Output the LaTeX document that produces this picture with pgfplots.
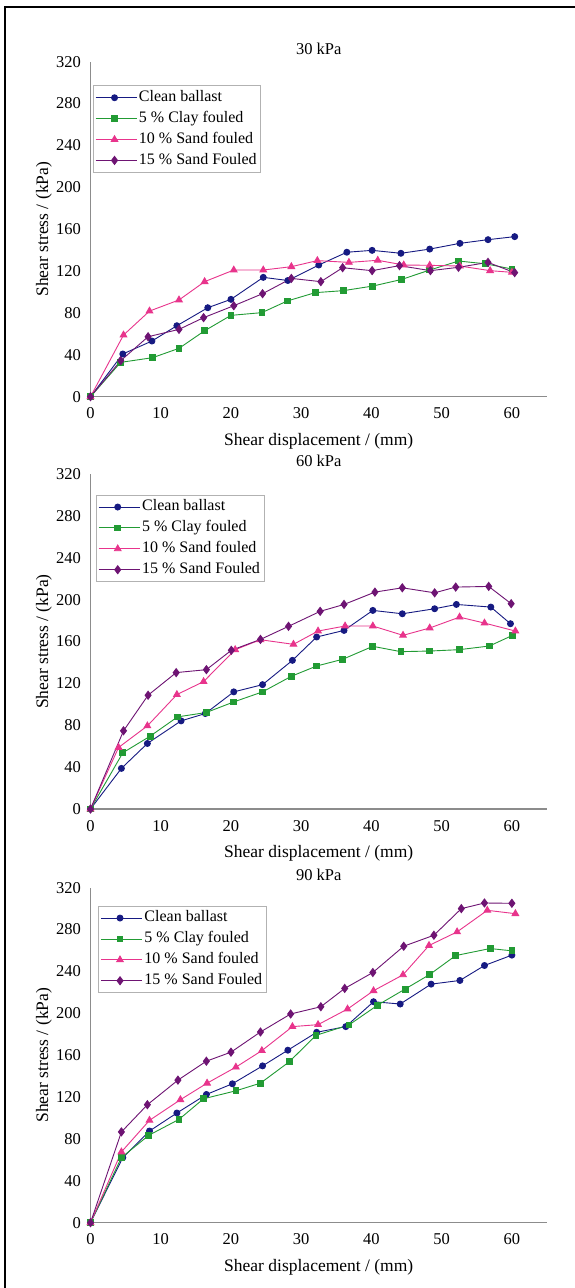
\documentclass[border=0pt]{standalone}
\usepackage{pgfplots}
\pgfplotsset{compat=1.18}
\usepackage{fontspec}
\setmainfont{Liberation Serif}
\definecolor{cb}{RGB}{22,26,130}
\definecolor{cg}{RGB}{34,155,52}
\definecolor{cp}{RGB}{232,52,140}
\definecolor{cv}{RGB}{110,20,115}
\definecolor{axgray}{RGB}{140,140,140}
\pgfplotsset{
  myax/.style={
    scale only axis, width=456.5pt, height=335pt,
    xmin=0, xmax=65, ymin=0, ymax=320,
    xtick={0,10,...,60}, ytick={0,40,...,320},
    axis x line=bottom, axis y line=left,
    axis line style={-, draw=axgray, line width=1.3pt},
    major tick length=0pt,
    clip=false,
    /pgf/number format/assume math mode=true,
    tick label style={font=\fontsize{16.5}{19}\selectfont},
    yticklabel style={anchor=east, inner sep=0pt, xshift=-9.5pt},
    xticklabel style={anchor=north, inner sep=0pt, yshift=-11pt},
    label style={font=\fontsize{17.5}{20}\selectfont},
    xlabel={Shear displacement / (mm)},
    ylabel={Shear stress / (kPa)},
    xlabel style={at={(axis description cs:0.5,-0.132)}, anchor=center},
    ylabel style={at={(axis description cs:-0.1019,0.5)}, anchor=center},
    title style={at={(axis description cs:0.5,1.02)}, anchor=center, font=\fontsize{16.5}{19}\selectfont},
    legend style={anchor=north west, draw=gray!60, line width=0.6pt, fill=white,
      font=\fontsize{16}{18}\selectfont, cells={anchor=west},
      inner xsep=2pt, inner ysep=1.5pt, row sep=0pt,
      nodes={inner ysep=3.2pt, inner xsep=2pt, text height=11pt, text depth=3.5pt}},
    legend cell align=left,
    legend image code/.code={\path (-1pt,0pt) -- (40pt,0pt);\draw[mark repeat=2,mark phase=2] plot coordinates {(0pt,0pt) (18pt,0pt) (36pt,0pt)};},
    every axis plot/.append style={line width=0.9pt},
  },
  sb/.style={color=cb, mark=*, mark size=3pt},
  sg/.style={color=cg, mark=square*, mark size=2.9pt},
  sp/.style={color=cp, mark=triangle*, mark size=3.8pt},
  sv/.style={color=cv, mark=diamond*, mark size=4pt},
}
\begin{document}
\begin{tikzpicture}
\useasboundingbox (0,0) rectangle (574pt,-1288pt);
\fill[white] (0,0) rectangle (574pt,-1288pt);
\draw[black, line width=2.2pt] (5pt,-1290pt) -- (5pt,-7pt) -- (576pt,-7pt);

% ---------- 30 kPa ----------
\begin{axis}[myax, at={(90.5pt,-396.7pt)}, anchor=south west, title={30 kPa},
  legend style={at={(axis description cs:0.005,0.929)}}]
\addplot[sb] coordinates {(0,0) (4.6,40.8) (8.75,53.2) (12.3,67.8) (16.7,85) (20,93) (24.6,114) (28.1,111) (32.5,125.8) (36.5,138) (40.1,139.8) (44.2,137) (48.3,141) (52.6,146.5) (56.6,150) (60.4,152.9)};
\addlegendentry{Clean ballast}
\addplot[sg] coordinates {(0,0) (4.3,32.8) (8.85,37.3) (12.6,46.2) (16.25,63) (20,77.7) (24.4,80.3) (28,91.4) (32,99.4) (36,101.3) (40.2,105.7) (44.3,112) (48.3,121) (52.4,129.6) (56.2,127) (60,122)};
\addlegendentry{5 \% Clay fouled}
\addplot[sp] coordinates {(0,0) (4.7,58.9) (8.4,81.8) (12.6,92.4) (16.25,109.9) (20.4,121) (24.6,121) (28.6,124.2) (32.3,130) (36.8,128.3) (40.9,130.3) (44.6,125.8) (48.3,125.5) (52.6,124.8) (56.9,120.4) (60,118.8)};
\addlegendentry{10 \% Sand fouled}
\addplot[sv] coordinates {(0,0) (4.3,34.4) (8.2,57.3) (12.6,64.3) (16.1,75.5) (20.4,86.9) (24.5,98.4) (28.6,113) (32.8,109.9) (35.9,123.2) (40.1,120.4) (44,125.2) (48.4,120.4) (52.4,123.6) (56.6,128.3) (60.4,118.5)};
\addlegendentry{15 \% Sand Fouled}
\end{axis}

% ---------- 60 kPa ----------
\begin{axis}[myax, at={(90.5pt,-809pt)}, anchor=south west, title={60 kPa},
  legend style={at={(axis description cs:0.012,0.938)}}]
\addplot[sb] coordinates {(0,0) (4.4,38.8) (8.1,62.6) (12.9,84.2) (16.35,91.2) (20.4,111.9) (24.5,118.8) (28.75,142) (32.2,164.3) (36.1,170.6) (40.2,189.7) (44.4,186.5) (49,191.3) (52.1,195.4) (57,192.9) (59.8,177)};
\addlegendentry{Clean ballast}
\addplot[sg] coordinates {(0,0) (4.6,53.7) (8.5,69.6) (12.4,88) (16.5,92.2) (20.4,102.3) (24.5,111.9) (28.6,126.8) (32.2,136.6) (35.9,143) (40.2,155.4) (44.2,150.3) (48.3,150.9) (52.5,152.2) (56.8,155.7) (60.1,165.9)};
\addlegendentry{5 \% Clay fouled}
\addplot[sp] coordinates {(0,0) (4,58.8) (8.1,79.4) (12.3,109.3) (16.1,121.7) (20.6,152.2) (24.2,161.7) (28.9,157.3) (32.4,170) (36.25,174.8) (40.2,174.8) (44.5,165.9) (48.3,172.9) (52.55,183.3) (56.1,177.6) (60.5,170)};
\addlegendentry{10 \% Sand fouled}
\addplot[sv] coordinates {(0,0) (4.7,74.7) (8.2,108.7) (12.2,130.3) (16.5,133.1) (20.05,151.6) (24.2,162) (28.2,174.5) (32.7,188.8) (36.1,195.4) (40.5,207.2) (44.4,211.3) (49,206.5) (52,212) (56.7,212.6) (59.9,196.1)};
\addlegendentry{15 \% Sand Fouled}
\end{axis}

% ---------- 90 kPa ----------
\begin{axis}[myax, at={(90.5pt,-1222.7pt)}, anchor=south west, title={90 kPa},
  legend style={at={(axis description cs:0.017,0.946)}}]
\addplot[sb] coordinates {(0,0) (4.6,62.2) (8.4,87.6) (12.3,104.8) (16.5,122.5) (20.2,132.7) (24.5,149.8) (28.1,164.8) (32.2,181.9) (36.35,187.3) (40.3,211.1) (44.1,208.9) (48.5,227.9) (52.6,231.4) (56.1,245.7) (60,255.6)};
\addlegendentry{Clean ballast}
\addplot[sg] coordinates {(0,0) (4.4,62.2) (8.3,83.5) (12.6,98.7) (16.1,118.4) (20.7,126) (24.2,133.3) (28.3,153.7) (32.1,179) (36.8,188.9) (40.9,207.9) (44.8,223.2) (48.3,237.1) (52,255.2) (56.9,261.9) (60,259.7)};
\addlegendentry{5 \% Clay fouled}
\addplot[sp] coordinates {(0,0) (4.4,67.6) (8.4,97.8) (12.8,117.5) (16.6,133.3) (20.7,148.6) (24.4,164.4) (28.75,187.3) (32.4,189.2) (36.6,204.1) (40.3,221.6) (44.5,236.8) (48.2,264.8) (52.2,277.8) (56.5,298.4) (60.5,295.2)};
\addlegendentry{10 \% Sand fouled}
\addplot[sv] coordinates {(0,0) (4.4,86.7) (8.1,112.7) (12.45,136.2) (16.5,154.3) (20,162.9) (24.2,182.2) (28.5,199.4) (32.8,206.3) (36.2,223.8) (40.2,239) (44.6,264.1) (48.9,274.6) (52.8,300) (56.1,305.4) (60,305.1)};
\addlegendentry{15 \% Sand Fouled}
\end{axis}
\end{tikzpicture}
\end{document}
